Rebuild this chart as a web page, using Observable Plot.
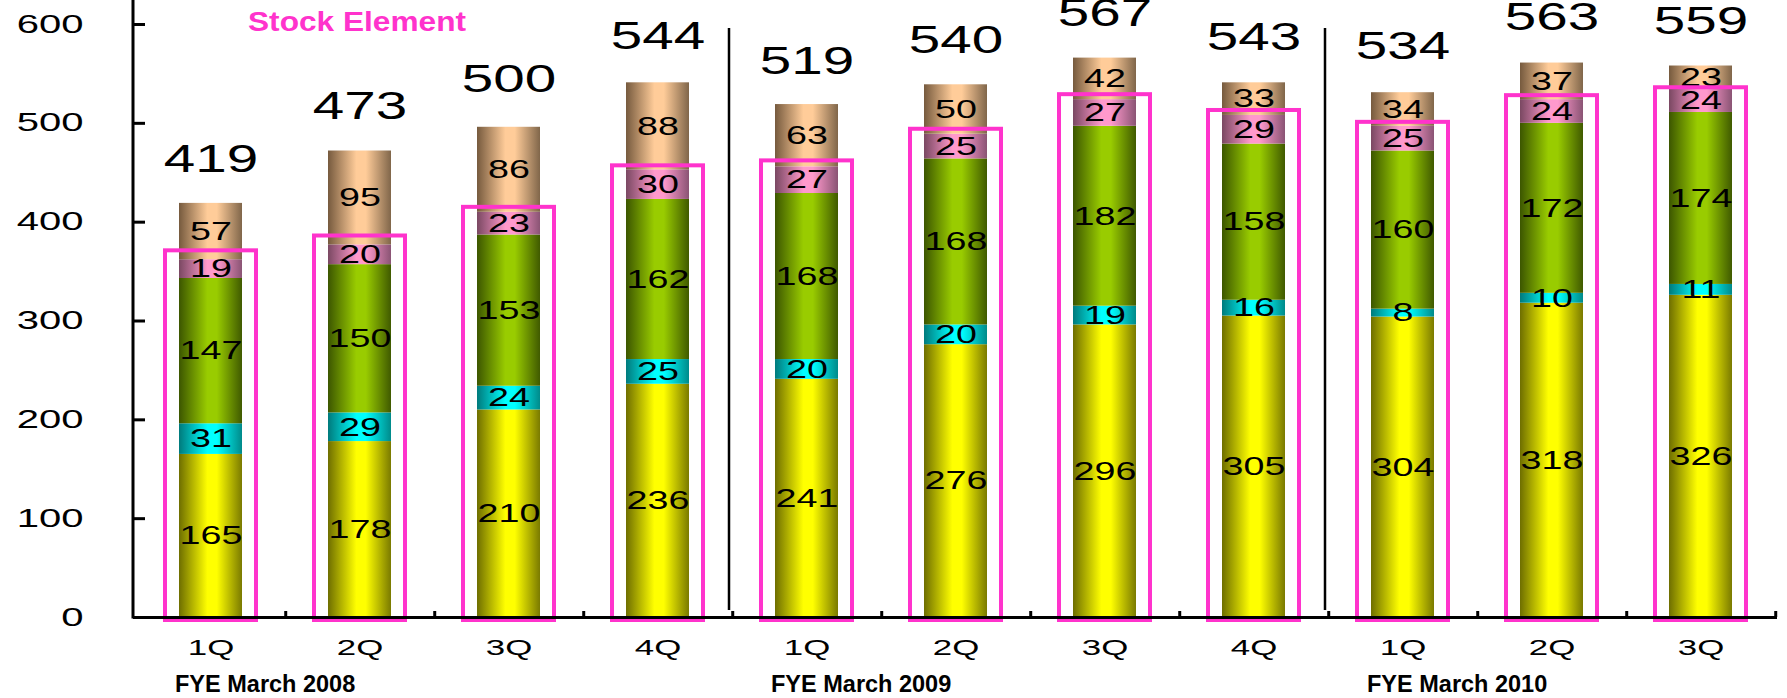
<!DOCTYPE html>
<html><head><meta charset="utf-8">
<script src="https://cdn.jsdelivr.net/npm/d3@7"></script>
<script src="https://cdn.jsdelivr.net/npm/@observablehq/plot@0.6"></script>
<style>
html,body{margin:0;padding:0;background:#fff;}
#wrap{position:relative;width:1787px;height:698px;overflow:hidden;background:#fff;}
#title{position:absolute;left:248px;top:8px;font:bold 28px "Liberation Sans",Arial,sans-serif;color:#ff33cc;line-height:28px;white-space:nowrap;transform:scaleX(1.13);transform-origin:left center;z-index:2;}
</style></head><body>
<div id="wrap"><div id="title">Stock Element</div></div>
<script>
// ---- data ----
const quarters    = ["1Q","2Q","3Q","4Q","1Q","2Q","3Q","4Q","1Q","2Q","3Q"];
const fiscalYears = ["FYE March 2008","FYE March 2008","FYE March 2008","FYE March 2008",
                     "FYE March 2009","FYE March 2009","FYE March 2009","FYE March 2009",
                     "FYE March 2010","FYE March 2010","FYE March 2010"];
const seriesNames = ["Segment 1","Segment 2","Segment 3","Segment 4","Segment 5"];
const seg1Vals = [165,178,210,236,241,276,296,305,304,318,326];
const seg2Vals = [31,29,24,25,20,20,19,16,8,10,11];
const seg3Vals = [147,150,153,162,168,168,182,158,160,172,174];
const seg4Vals = [19,20,23,30,27,25,27,29,25,24,24];
const seg5Vals = [57,95,86,88,63,50,42,33,34,37,23];
const totals   = [419,473,500,544,519,540,567,543,534,563,559];
const stockBox = [371,386,415,457,462,494,529,513,501,528,536];
const yTicks   = [0,100,200,300,400,500,600];
const separators = [4, 8]; // index of first quarter of a new fiscal year
const titleText  = "Stock Element";

// ---- build tables ----
const keys = quarters.map((q, i) => fiscalYears[i] + " " + q);
const quarterOf = new Map(keys.map((k, i) => [k, quarters[i]]));
const seriesValues = [seg1Vals, seg2Vals, seg3Vals, seg4Vals, seg5Vals];
const rows = keys.flatMap((k, i) => seriesNames.map((s, j) => ({key: k, series: s, value: seriesValues[j][i]})));
const totRows = keys.map((k, i) => ({key: k, total: totals[i]}));
const boxRows = keys.map((k, i) => ({key: k, box: stockBox[i]}));
const groupRows = [...new Set(fiscalYears)].map(fy => ({label: fy, key: keys[fiscalYears.indexOf(fy)]}));
const sepKeys = separators.map(i => keys[i]);

const gradColors = [
  ["#6e6e00", "#ffff00", "#7a7a00"],
  ["#007a7c", "#00ffff", "#008a8a"],
  ["#3c5600", "#99cc00", "#405a00"],
  ["#7a4862", "#ff99cc", "#8a5474"],
  ["#765a3e", "#ffcc99", "#80664a"]
];
const gradIds = seriesNames.map((s, i) => "grad" + i);

const ns = "http://www.w3.org/2000/svg";
function gradientDefs() {
  const defs = document.createElementNS(ns, "defs");
  gradIds.forEach((id, i) => {
    const g = document.createElementNS(ns, "linearGradient");
    g.setAttribute("id", id);
    g.setAttribute("x1", "0"); g.setAttribute("x2", "1"); g.setAttribute("y1", "0"); g.setAttribute("y2", "0");
    [[0, gradColors[i][0]], [0.45, gradColors[i][1]], [0.6, gradColors[i][1]], [1, gradColors[i][2]]].forEach(([o, c]) => {
      const st = document.createElementNS(ns, "stop");
      st.setAttribute("offset", o); st.setAttribute("stop-color", c);
      g.appendChild(st);
    });
    defs.appendChild(g);
  });
  return defs;
}
function yAxisLine(index, scales, values, dims) {
  const l = document.createElementNS(ns, "line");
  const x = dims.marginLeft;
  l.setAttribute("x1", x); l.setAttribute("x2", x);
  l.setAttribute("y1", 0); l.setAttribute("y2", scales.y(0) + 1.5);
  l.setAttribute("stroke", "black"); l.setAttribute("stroke-width", 3);
  return l;
}

const W = 1787, H = 698, ML = 133, MR = 10;
const halfStep = (W - ML - MR) / keys.length / 2;

const chart = Plot.plot({
  width: W, height: H,
  marginLeft: ML, marginRight: MR, marginTop: 24, marginBottom: 81,
  x: {domain: keys, paddingInner: 0.58, paddingOuter: 0.29, axis: null, label: null},
  y: {domain: [0, 600], axis: null, label: null},
  color: {type: "ordinal", domain: seriesNames, range: gradIds.map(id => `url(#${id})`)},
  style: {fontFamily: "'Liberation Sans', Arial, sans-serif", color: "black", background: "white", overflow: "visible"},
  marks: [
    gradientDefs,
    Plot.barY(rows, {x: "key", y: "value", fill: "series"}),
    Plot.text(rows, Plot.stackY({x: "key", y: "value", text: d => String(d.value), fontSize: 26, fill: "black", ariaLabel: () => "seglabel"})),
    Plot.barY(boxRows, {x: "key", y: "box", fill: "none", stroke: "#ff33cc", strokeWidth: 4, insetLeft: -14, insetRight: -14, insetBottom: -3}),
    Plot.text(totRows, {x: "key", y: "total", text: d => String(d.total), fontSize: 39, lineAnchor: "bottom", dy: -31, fill: "black", ariaLabel: () => "totlabel"}),
    Plot.ruleY([0], {strokeWidth: 3}),
    yAxisLine,
    Plot.axisY(yTicks, {tickSize: -12, tickPadding: 62, strokeWidth: 3, fontSize: 25, tickFormat: d => String(d), label: null}),
    Plot.axisX({tickSize: 0, tickPadding: 22, fontSize: 22.5, tickFormat: k => quarterOf.get(k), label: null}),
    Plot.axisX({tickSize: -6, strokeWidth: 3, dx: halfStep, fill: "none", label: null}),
    Plot.ruleX(sepKeys, {x: d => d, dx: -78, strokeWidth: 2.5, insetTop: 4, insetBottom: 7}),
    Plot.text(groupRows, {x: "key", text: "label", frameAnchor: "bottom", textAnchor: "start", dx: -36, dy: 74, fontSize: 23.5, fontWeight: "bold", fill: "black"})
  ]
});

const wrap = document.getElementById("wrap");
wrap.insertBefore(chart, wrap.firstChild);

function stretch(sel, k) {
  chart.querySelectorAll(sel).forEach(t => {
    const w = t.getComputedTextLength();
    if (w > 0) {
      t.setAttribute("textLength", (w * k).toFixed(1));
      t.setAttribute("lengthAdjust", "spacingAndGlyphs");
    }
  });
}
stretch('text[aria-label="totlabel"]', 1.45);
stretch('text[aria-label="seglabel"]', 1.45);
stretch('g[aria-label="y-axis tick label"] text', 1.6);
stretch('g[aria-label="x-axis tick label"] text', 1.55);
</script>
</body></html>
